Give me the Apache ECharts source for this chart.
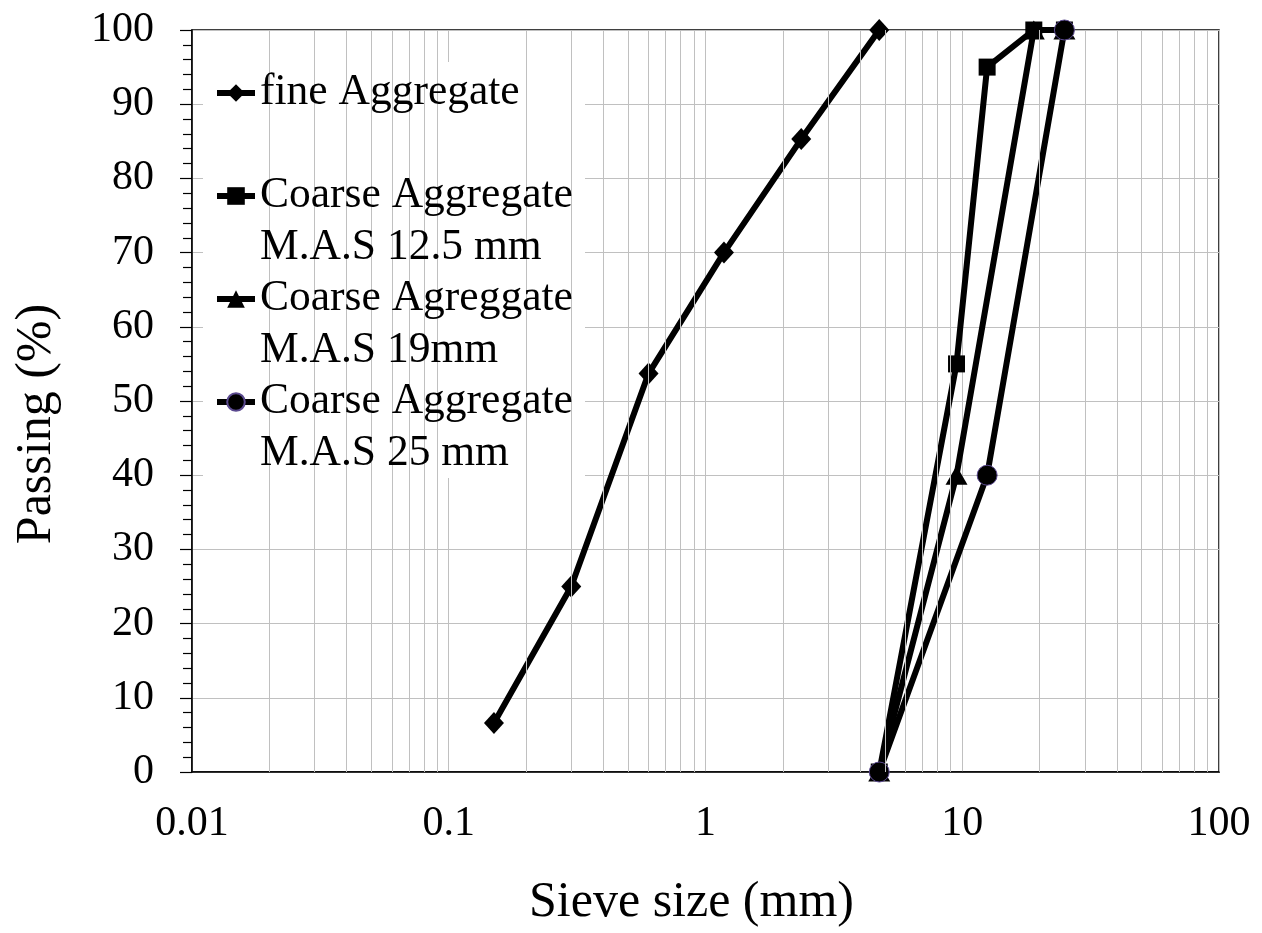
<!DOCTYPE html>
<html>
<head>
<meta charset="utf-8">
<script src="https://cdn.jsdelivr.net/npm/echarts@6/dist/echarts.min.js"></script>
<style>
html,body{margin:0;padding:0;background:#fff;}
#chart{width:1262px;height:933px;}
</style>
</head>
<body>
<div id="chart"></div>
<script>
// ---- data ----
const fineSize = [0.15, 0.3, 0.6, 1.18, 2.36, 4.75];
const finePass = [6.6, 25, 53.7, 70, 85.3, 100];

const c125Size = [4.75, 9.5, 12.5, 19, 25];
const c125Pass = [0, 55, 95, 100, 100];

const c19Size = [4.75, 9.5, 19, 25];
const c19Pass = [0, 40, 100, 100];

const c25Size = [4.75, 12.5, 25];
const c25Pass = [0, 40, 100];

const seriesNames = [
  'fine Aggregate',
  'Coarse Aggregate M.A.S 12.5 mm',
  'Coarse Agreggate M.A.S 19mm',
  'Coarse Aggregate M.A.S 25 mm'
];
const legendLines = [
  ['fine Aggregate', ' '],
  ['Coarse Aggregate', 'M.A.S 12.5 mm'],
  ['Coarse Agreggate', 'M.A.S 19mm'],
  ['Coarse Aggregate', 'M.A.S 25 mm']
];
const xTickLabels = ['0.01', '0.1', '1', '10', '100'];
const xName = 'Sieve size (mm)';
const yName = 'Passing (%)';

// minor log grid lines (2..9 in each decade)
const minorGrid = [];
[0.01, 0.1, 1, 10].forEach(function (d) {
  for (let k = 2; k <= 9; k++) minorGrid.push(+(d * k).toPrecision(6));
});

function pairs(xs, ys) { return xs.map(function (x, i) { return [x, ys[i]]; }); }

const FONT = '"Liberation Serif", "Times New Roman", serif';
const chart = echarts.init(document.getElementById('chart'), null, {renderer: 'canvas'});

const lineStyle = {color: '#000', width: 6};

chart.setOption({
  animation: false,
  backgroundColor: '#fff',
  grid: {left: 192, right: 43, top: 30, bottom: 159, show: true, borderColor: '#000', borderWidth: 1.5, backgroundColor: 'transparent'},
  xAxis: {
    type: 'log', logBase: 10, min: 0.01, max: 100,
    name: xName, nameLocation: 'middle', nameGap: 106,
    nameTextStyle: {fontFamily: FONT, fontSize: 50, color: '#000', padding: [0, 28, 0, 0]},
    axisLine: {show: true, lineStyle: {color: '#000', width: 1.5}},
    axisTick: {show: false},
    axisLabel: {
      fontFamily: FONT, fontSize: 42, color: '#000', margin: 31,
      formatter: function (v) {
        const i = Math.round(Math.log10(v)) + 2;
        return xTickLabels[i] !== undefined ? xTickLabels[i] : '';
      }
    },
    splitLine: {show: true, lineStyle: {color: '#c0c0c0', width: 1}}
  },
  yAxis: {
    type: 'value', min: 0, max: 100, interval: 10,
    name: yName, nameLocation: 'middle', nameGap: 130, nameRotate: 90,
    nameTextStyle: {fontFamily: FONT, fontSize: 50, color: '#000', padding: [0, 46, 0, 0]},
    axisLine: {show: true, lineStyle: {color: '#000', width: 1.5}},
    axisTick: {show: true, inside: false, length: 12, lineStyle: {color: '#000', width: 1.2}},
    minorTick: {show: true, splitNumber: 5, length: 9, lineStyle: {color: '#000', width: 1.2}},
    axisLabel: {fontFamily: FONT, fontSize: 42, color: '#000', margin: 38},
    splitLine: {show: true, lineStyle: {color: '#c0c0c0', width: 1}}
  },
  legend: {
    data: seriesNames,
    orient: 'vertical',
    left: 214, top: 15,
    padding: 0,
    itemGap: -53,
    itemWidth: 38, itemHeight: 22,
    selectedMode: false,
    z: 10,
    lineStyle: {width: 6, color: '#000'},
    textStyle: {fontFamily: FONT, fontSize: 43.5, color: '#000', lineHeight: 52},
    formatter: function (name) {
      const i = seriesNames.indexOf(name);
      return ' \n' + legendLines[i].join('\n');
    }
  },
  graphic: [{
    type: 'rect', z: 5, silent: true,
    shape: {x: 203, y: 62, width: 382, height: 416},
    style: {fill: '#fff'}
  }],
  series: [
    {
      name: '_grid', type: 'line', data: [], z: 1, silent: true,
      markLine: {
        silent: true, symbol: 'none', animation: false,
        label: {show: false},
        lineStyle: {color: '#c0c0c0', width: 1, type: 'solid'},
        emphasis: {disabled: true},
        data: minorGrid.map(function (v) { return {xAxis: v}; })
      }
    },
    {
      name: seriesNames[0], type: 'line', z: 3,
      data: pairs(fineSize, finePass),
      symbol: 'diamond', symbolSize: [20, 22],
      lineStyle: lineStyle, itemStyle: {color: '#000'}
    },
    {
      name: seriesNames[1], type: 'line', z: 3,
      data: pairs(c125Size, c125Pass),
      symbol: 'rect', symbolSize: 17,
      lineStyle: lineStyle, itemStyle: {color: '#000'}
    },
    {
      name: seriesNames[2], type: 'line', z: 3,
      data: pairs(c19Size, c19Pass),
      symbol: 'triangle', symbolSize: [22, 19],
      lineStyle: lineStyle, itemStyle: {color: '#000'}
    },
    {
      name: seriesNames[3], type: 'line', z: 3,
      data: pairs(c25Size, c25Pass),
      symbol: 'circle', symbolSize: 20,
      lineStyle: lineStyle, itemStyle: {color: '#000', borderColor: '#5b4a8f', borderWidth: 1}
    }
  ]
});
</script>
</body>
</html>
